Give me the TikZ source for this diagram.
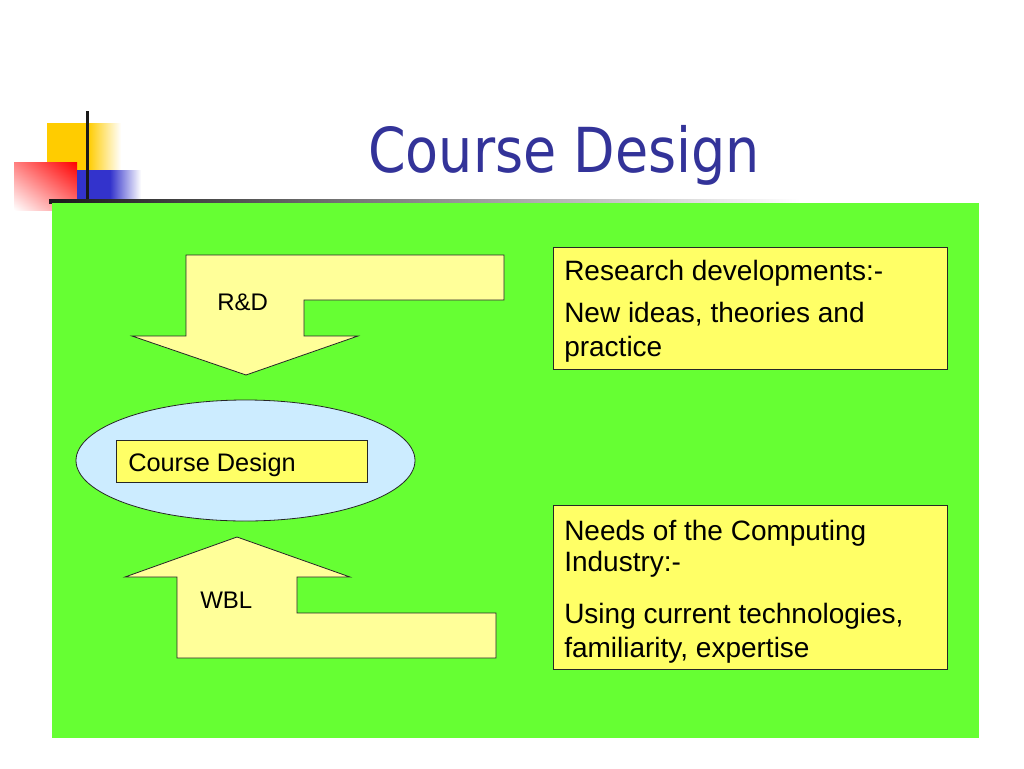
\documentclass[tikz,border=0pt]{standalone}
\usepackage{fontspec}
\usetikzlibrary{shadings}
\setmainfont{Liberation Sans}
\newfontfamily\titlefont[FakeStretch=0.87]{DejaVu Sans}
\definecolor{slidegreen}{RGB}{102,255,51}
\definecolor{boxyellow}{RGB}{255,255,102}
\definecolor{arrowyellow}{RGB}{255,255,153}
\definecolor{ellblue}{RGB}{204,236,255}
\definecolor{titleblue}{RGB}{51,51,153}
\definecolor{decoyellow}{RGB}{255,204,0}
\definecolor{decored}{RGB}{255,0,0}
\definecolor{decoblue}{RGB}{51,51,204}
\begin{document}
\begin{tikzpicture}[x=0.75pt,y=-0.75pt,
  ybox/.style={draw=black!85,line width=0.6pt,fill=boxyellow,inner sep=0pt,outer sep=0pt,anchor=north west},
  arrowshape/.style={draw=black!85,line width=0.6pt,fill=arrowyellow,line join=miter},
  bigtxt/.style={anchor=base west,inner sep=0pt,font=\fontsize{21}{25}\selectfont},
  midtxt/.style={anchor=base west,inner sep=0pt,font=\fontsize{19}{23}\selectfont},
  lbltxt/.style={anchor=base west,inner sep=0pt,font=\fontsize{18}{22}\selectfont}]
\useasboundingbox (0,0) rectangle (1024,768);
\fill[white] (0,0) rectangle (1024,768);
% decoration
\fill[decoyellow] (47,123) rectangle (88,170);
\shade[left color=decoyellow,right color=white] (88,123) rectangle (121,170);
\shade[upper right=decored,upper left=decored!50!white,lower right=decored!50!white,lower left=white] (14,162) rectangle (77,210);
\fill[decoblue] (77,170) rectangle (110,199);
\shade[left color=decoblue,right color=white] (110,170) rectangle (141,199);
\fill[black!90] (85.5,111) rectangle (88.5,201);
\shade[left color=black!90,right color=white] (49,199) rectangle (800,203);
% green panel
\fill[slidegreen] (52,203) rectangle (979,738);
% title
\node (title) [anchor=base,inner sep=0pt,text=titleblue,font=\titlefont\fontsize{46.5}{52}\selectfont] at (564,172) {Course Design};
% R&D arrow
\draw[arrowshape] (186,255) -- (504,255) -- (504,300) -- (304,300) -- (304,336) -- (358,336) -- (246,375) -- (132,336) -- (186,336) -- cycle;
\node (rdl) [lbltxt] at (217,310) {R\&D};
% ellipse
\draw[draw=black!85,line width=0.6pt,fill=ellblue] (245.5,460.5) ellipse [x radius=169.5,y radius=60.5];
\node (cdbox) [ybox,minimum width=188.25pt,minimum height=31.5pt] at (116,440) {};
\node (cdl) [midtxt] at (128,471.5) {Course Design};
% WBL arrow
\draw[arrowshape] (237,537) -- (350,577) -- (297,577) -- (297,613) -- (496,613) -- (496,658) -- (177,658) -- (177,577) -- (125,577) -- cycle;
\node (wbl) [lbltxt] at (200,608) {WBL};
% right boxes
\node (rbox) [ybox,minimum width=295.5pt,minimum height=91.5pt] at (553,247) {};
\node (r1) [bigtxt] at (564,280) {Research developments:-};
\node (r2) [bigtxt] at (564,322) {New ideas, theories and};
\node (r3) [bigtxt] at (564,356) {practice};
\node (nbox) [ybox,minimum width=295.5pt,minimum height=123pt] at (553,505) {};
\node (n1) [bigtxt] at (564,540) {Needs of the Computing};
\node (n2) [bigtxt] at (564,571) {Industry:-};
\node (n3) [bigtxt] at (564,623) {Using current technologies,};
\node (n4) [bigtxt] at (564,657) {familiarity, expertise};
\end{tikzpicture}
\end{document}
